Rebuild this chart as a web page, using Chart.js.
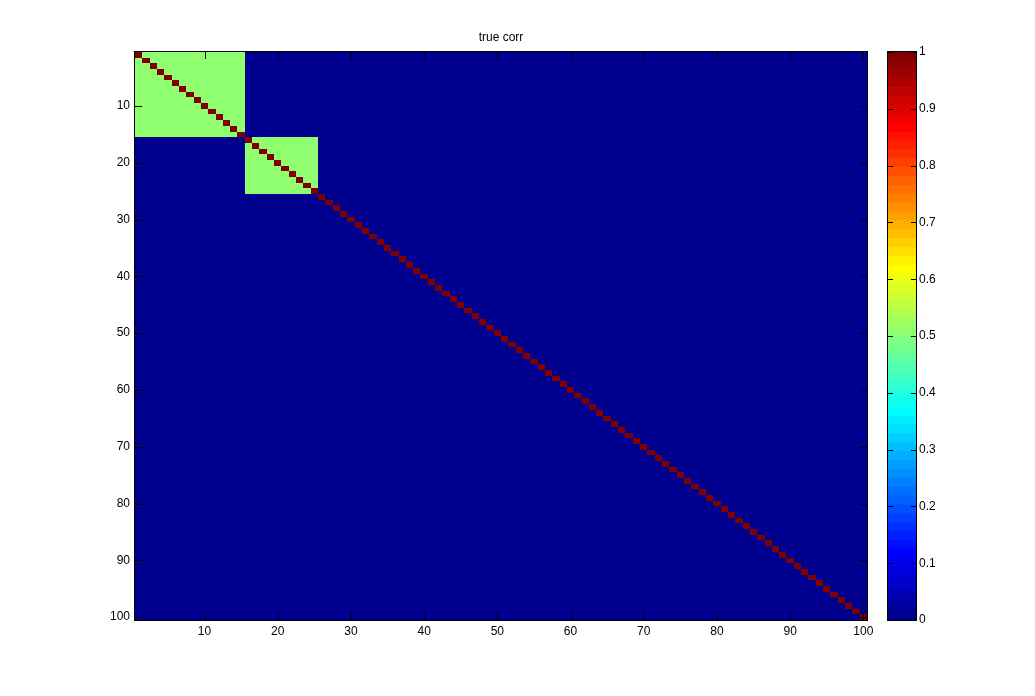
<!DOCTYPE html>
<html>
<head>
<meta charset="utf-8">
<script src="https://cdn.jsdelivr.net/npm/chart.js@4.4.0/dist/chart.umd.min.js"></script>
<style>
  body { margin: 0; background: #fff; }
  #wrap { position: relative; width: 1035px; height: 696px; }
  #heat { position: absolute; left: 0; top: 0; }
  #cbar { position: absolute; left: 860px; top: 0; }
</style>
</head>
<body>
<div id="wrap">
  <canvas id="heat" width="1035" height="696"></canvas>
  <canvas id="cbar" width="175" height="696"></canvas>
</div>
<script>
// matrix size and block structure of the true correlation matrix
const matrixSize = 100;
const blockStart = [1, 16];
const blockEnd = [15, 25];
const blockValue = [0.5, 0.5];
const diagValue = 1;
const offValue = 0;

const axisTicks = [10, 20, 30, 40, 50, 60, 70, 80, 90, 100];
const colorbarTicks = [0, 0.1, 0.2, 0.3, 0.4, 0.5, 0.6, 0.7, 0.8, 0.9, 1];
const colorLevels = 64;
const titleText = 'true corr';

const FONT = 'Liberation Sans, Arial, sans-serif';

// MATLAB jet colour for level k (1..colorLevels)
function jetColor(k) {
  const x = k / colorLevels;
  const c = v => Math.round(255 * Math.max(0, Math.min(1, v)));
  const r = c(1.5 - Math.abs(4 * x - 3));
  const g = c(1.5 - Math.abs(4 * x - 2));
  const b = c(1.5 - Math.abs(4 * x - 1));
  return `rgb(${r},${g},${b})`;
}
function valueColor(v) {
  const k = Math.min(colorLevels, Math.floor(v * colorLevels) + 1);
  return jetColor(k);
}

// build the cells
const cells = [];
for (let i = 1; i <= matrixSize; i++) {
  for (let j = 1; j <= matrixSize; j++) {
    let v = offValue;
    blockStart.forEach((s, b) => {
      if (i >= s && i <= blockEnd[b] && j >= s && j <= blockEnd[b]) v = blockValue[b];
    });
    if (i === j) v = diagValue;
    cells.push({ x: j, y: i, v: v });
  }
}

function fixedTicks(list) {
  return scale => { scale.ticks = list.map(v => ({ value: v })); };
}

// draws the heatmap cells, box, inward ticks and title
const heatPlugin = {
  id: 'heatPlugin',
  beforeDatasetsDraw(chart) {
    const ctx = chart.ctx;
    const xs = chart.scales.x, ys = chart.scales.y;
    ctx.save();
    chart.data.datasets[0].data.forEach(c => {
      const x0 = Math.round(xs.getPixelForValue(c.x - 0.5));
      const x1 = Math.round(xs.getPixelForValue(c.x + 0.5));
      const y0 = Math.round(ys.getPixelForValue(c.y - 0.5));
      const y1 = Math.round(ys.getPixelForValue(c.y + 0.5));
      ctx.fillStyle = valueColor(c.v);
      ctx.fillRect(x0, y0, x1 - x0, y1 - y0);
    });
    ctx.restore();
  },
  afterDraw(chart) {
    const ctx = chart.ctx;
    const a = chart.chartArea;
    const xs = chart.scales.x, ys = chart.scales.y;
    const tl = 7;
    ctx.save();
    ctx.strokeStyle = '#000';
    ctx.lineWidth = 1;
    ctx.beginPath();
    axisTicks.forEach(t => {
      const px = Math.round(xs.getPixelForValue(t)) + 0.5;
      ctx.moveTo(px, a.bottom); ctx.lineTo(px, a.bottom - tl);
      ctx.moveTo(px, a.top); ctx.lineTo(px, a.top + tl);
      const py = Math.round(ys.getPixelForValue(t)) + 0.5;
      ctx.moveTo(a.left, py); ctx.lineTo(a.left + tl, py);
      ctx.moveTo(a.right, py); ctx.lineTo(a.right - tl, py);
    });
    ctx.stroke();
    ctx.strokeRect(Math.round(a.left) - 0.5, Math.round(a.top) - 0.5,
      Math.round(a.right - a.left) + 1, Math.round(a.bottom - a.top) + 1);
    ctx.fillStyle = '#000';
    ctx.font = '12px ' + FONT;
    ctx.textAlign = 'center';
    ctx.textBaseline = 'middle';
    ctx.fillText(titleText, (a.left + a.right) / 2, 38);
    ctx.restore();
  }
};

new Chart(document.getElementById('heat'), {
  type: 'scatter',
  data: {
    datasets: [{ data: cells, pointRadius: 0, pointHoverRadius: 0 }]
  },
  options: {
    responsive: false,
    animation: false,
    events: [],
    layout: { padding: { left: 0, top: 52, right: 168, bottom: 0 } },
    plugins: { legend: { display: false }, tooltip: { enabled: false } },
    scales: {
      x: {
        type: 'linear', min: 0.5, max: matrixSize + 0.5,
        afterBuildTicks: fixedTicks(axisTicks),
        afterFit: s => { s.height = 76; },
        grid: { display: false, drawTicks: false },
        border: { display: false },
        ticks: { color: '#000', font: { family: FONT, size: 12 }, padding: 4, maxRotation: 0 }
      },
      y: {
        type: 'linear', reverse: true, min: 0.5, max: matrixSize + 0.5,
        afterBuildTicks: fixedTicks(axisTicks),
        afterFit: s => { s.width = 135; },
        grid: { display: false, drawTicks: false },
        border: { display: false },
        ticks: { color: '#000', font: { family: FONT, size: 12 }, padding: 5 }
      }
    }
  },
  plugins: [heatPlugin]
});

// colorbar: one stacked bar, one segment per colour level
const levelDatasets = [];
for (let k = 1; k <= colorLevels; k++) {
  levelDatasets.push({
    data: [1 / colorLevels],
    backgroundColor: jetColor(k),
    borderWidth: 0,
    barPercentage: 1,
    categoryPercentage: 1
  });
}

const cbarPlugin = {
  id: 'cbarPlugin',
  afterDraw(chart) {
    const ctx = chart.ctx;
    const a = chart.chartArea;
    const ys = chart.scales.y;
    const tl = 5;
    ctx.save();
    ctx.strokeStyle = '#000';
    ctx.lineWidth = 1;
    ctx.beginPath();
    colorbarTicks.forEach(t => {
      const py = Math.round(ys.getPixelForValue(t)) + 0.5;
      ctx.moveTo(a.left, py); ctx.lineTo(a.left + tl, py);
      ctx.moveTo(a.right, py); ctx.lineTo(a.right - tl, py);
    });
    ctx.stroke();
    ctx.strokeRect(Math.round(a.left) - 0.5, Math.round(a.top) - 0.5,
      Math.round(a.right - a.left) + 1, Math.round(a.bottom - a.top) + 1);
    ctx.restore();
  }
};

new Chart(document.getElementById('cbar'), {
  type: 'bar',
  data: { labels: [''], datasets: levelDatasets },
  options: {
    responsive: false,
    animation: false,
    events: [],
    layout: { padding: { left: 28, top: 52, right: 0, bottom: 76 } },
    plugins: { legend: { display: false }, tooltip: { enabled: false } },
    scales: {
      x: { display: false, stacked: true },
      y: {
        position: 'right', stacked: true, min: 0, max: 1,
        afterBuildTicks: fixedTicks(colorbarTicks),
        afterFit: s => { s.width = 119; },
        grid: { display: false, drawTicks: false },
        border: { display: false },
        ticks: {
          color: '#000', font: { family: FONT, size: 12 }, padding: 3,
          callback: v => String(Math.round(v * 10) / 10)
        }
      }
    }
  },
  plugins: [cbarPlugin]
});
</script>
</body>
</html>
